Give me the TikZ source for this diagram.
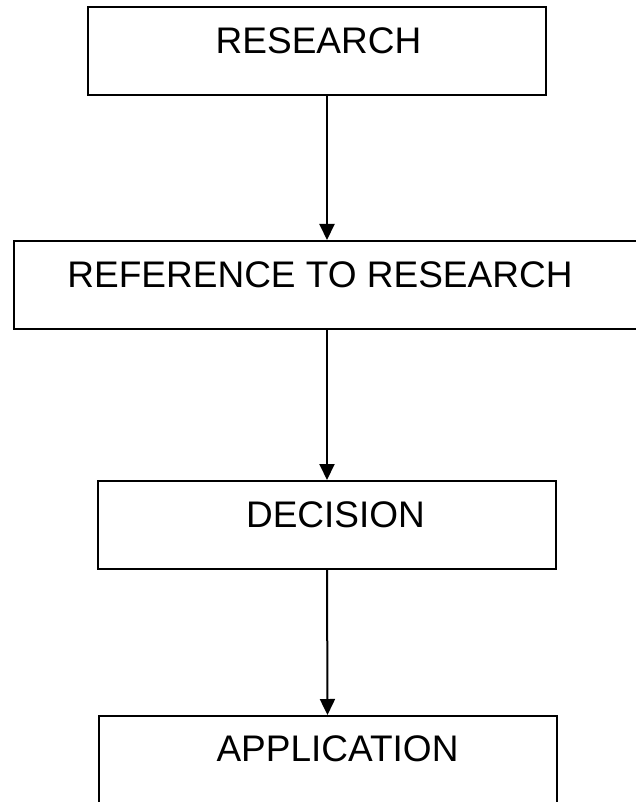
\documentclass[tikz,border=0pt]{standalone}
\usepackage{fontspec}
\setmainfont{Liberation Sans}
\usetikzlibrary{arrows.meta}
\begin{document}
\begin{tikzpicture}[
  x=0.5pt, y=-0.5pt,
  box/.style={draw,line width=1pt,inner sep=0pt,
    minimum width=229pt,minimum height=44pt},
  wide/.style={box,minimum width=313pt},
  lbl/.style={anchor=base,inner sep=0pt,font=\fontsize{18.5}{22}\selectfont},
  arr/.style={-{Triangle[length=8pt,width=7.5pt]},line width=1pt}]
\useasboundingbox (0,0) rectangle (636,802);
% boxes
\node[box]  (research)  at (317,51)    {};
\node[wide] (reference) at (327,285)   {};
\node[box]  (decision)  at (327,525)   {};
\node[box]  (application) at (327.5,760) {};
% texts
\node[lbl] (research-t)    at (318.5,54) {RESEARCH};
\node[lbl] (reference-t)   at (320,287)  {REFERENCE TO RESEARCH};
\node[lbl] (decision-t)    at (335.5,527) {DECISION};
\node[lbl] (application-t) at (337.5,761) {APPLICATION};
% arrows
\draw[arr] (research.south -| reference.north) -- (reference.north);
\draw[arr] (reference.south) -- (decision.north);
\draw[arr] (decision.south) -- (application.north);
\end{tikzpicture}
\end{document}
